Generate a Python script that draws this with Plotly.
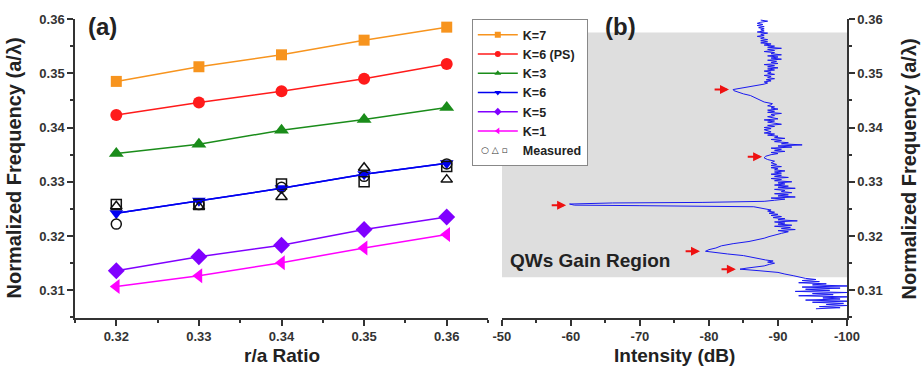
import plotly.graph_objects as go

# ---------------- data: panel (a) ----------------
ratio = [0.32, 0.33, 0.34, 0.35, 0.36]
series_names = ["K=7", "K=6 (PS)", "K=3", "K=6", "K=5", "K=1"]
k7 = [0.3485, 0.3512, 0.3534, 0.3561, 0.3585]
k6ps = [0.3423, 0.3446, 0.3467, 0.3490, 0.3517]
k3 = [0.3352, 0.3369, 0.3395, 0.3415, 0.3437]
k6 = [0.3242, 0.3265, 0.3288, 0.3314, 0.3334]
k5 = [0.3136, 0.3162, 0.3183, 0.3212, 0.3235]
k1 = [0.3107, 0.3127, 0.3151, 0.3178, 0.3203]
meas_circle = [0.3222, 0.3258, 0.3290, 0.3310, 0.3333]
meas_triangle = [0.3255, 0.3254, 0.3272, 0.3326, 0.3304]
meas_square = [0.3258, 0.3258, 0.3296, 0.3300, 0.3328]

# ---------------- data: panel (b) spectrum ----------------
spec_freq = [
    0.3066, 0.3068, 0.3070, 0.3072, 0.3074, 0.3076, 0.3078, 0.3080, 0.3082, 0.3084,
    0.3086, 0.3088, 0.3090, 0.3092, 0.3094, 0.3096, 0.3098, 0.3100, 0.3102, 0.3104,
    0.3106, 0.3108, 0.3110, 0.3112, 0.3114, 0.3116, 0.3118, 0.3120, 0.3122, 0.3124,
    0.3127, 0.3130, 0.3133, 0.3136, 0.3139, 0.3141, 0.3143, 0.3145, 0.3148, 0.3150,
    0.3152, 0.3154, 0.3156, 0.3158, 0.3161, 0.3164, 0.3167, 0.3170, 0.3172, 0.3175,
    0.3178, 0.3182, 0.3186, 0.3190, 0.3193, 0.3196, 0.3199, 0.3202, 0.3205, 0.3208,
    0.3210, 0.3212, 0.3214, 0.3216, 0.3218, 0.3220, 0.3222, 0.3224, 0.3226, 0.3228,
    0.3230, 0.3232, 0.3234, 0.3236, 0.3238, 0.3240, 0.3242, 0.3244, 0.3246, 0.3248,
    0.3250, 0.3252, 0.3254, 0.3256, 0.3257, 0.3259, 0.3261, 0.3262, 0.3264, 0.3266,
    0.3268, 0.3270, 0.3272, 0.3274, 0.3276, 0.3278, 0.3280, 0.3282, 0.3284, 0.3286,
    0.3288, 0.3290, 0.3292, 0.3294, 0.3296, 0.3298, 0.3300, 0.3302, 0.3304, 0.3306,
    0.3308, 0.3310, 0.3312, 0.3314, 0.3316, 0.3318, 0.3320, 0.3322, 0.3324, 0.3326,
    0.3328, 0.3330, 0.3332, 0.3335, 0.3338, 0.3341, 0.3344, 0.3347, 0.3350, 0.3352,
    0.3354, 0.3356, 0.3358, 0.3360, 0.3362, 0.3364, 0.3366, 0.3368, 0.3370, 0.3372,
    0.3374, 0.3376, 0.3378, 0.3380, 0.3382, 0.3384, 0.3386, 0.3388, 0.3390, 0.3392,
    0.3394, 0.3396, 0.3398, 0.3400, 0.3402, 0.3404, 0.3406, 0.3408, 0.3410, 0.3412,
    0.3414, 0.3416, 0.3418, 0.3420, 0.3422, 0.3424, 0.3426, 0.3428, 0.3430, 0.3432,
    0.3434, 0.3436, 0.3438, 0.3440, 0.3442, 0.3444, 0.3447, 0.3450, 0.3453, 0.3456,
    0.3459, 0.3462, 0.3465, 0.3468, 0.3470, 0.3472, 0.3474, 0.3476, 0.3478, 0.3480,
    0.3482, 0.3484, 0.3486, 0.3488, 0.3490, 0.3492, 0.3494, 0.3496, 0.3498, 0.3500,
    0.3502, 0.3504, 0.3506, 0.3508, 0.3510, 0.3512, 0.3514, 0.3516, 0.3518, 0.3520,
    0.3522, 0.3524, 0.3526, 0.3528, 0.3530, 0.3532, 0.3534, 0.3536, 0.3538, 0.3540,
    0.3542, 0.3544, 0.3546, 0.3548, 0.3550, 0.3552, 0.3554, 0.3556, 0.3558, 0.3560,
    0.3562, 0.3564, 0.3566, 0.3568, 0.3570, 0.3572, 0.3574, 0.3576, 0.3578, 0.3580,
    0.3582, 0.3584, 0.3586, 0.3588, 0.3590, 0.3592, 0.3594, 0.3596, 0.3598,
]
spec_db = [
    -95.5, -99.0, -96.0, -100.0, -97.0, -99.5, -95.0, -100.0, -94.0, -99.0,
    -96.5, -100.0, -93.0, -98.0, -95.0, -100.0, -92.5, -97.5, -94.0, -99.0,
    -93.5, -100.0, -95.0, -97.0, -93.0, -96.0, -93.5, -95.5, -94.0, -93.0,
    -92.2, -91.0, -90.0, -87.4, -84.5, -85.5, -87.0, -88.0, -88.8, -89.5,
    -88.5, -89.3, -88.2, -87.5, -86.5, -85.0, -82.7, -80.5, -79.5, -80.0,
    -81.0, -81.8, -83.5, -85.8, -87.0, -88.0, -88.7, -89.5, -90.5, -91.5,
    -90.0, -92.5, -90.5, -91.8, -89.5, -92.0, -90.0, -91.0, -89.5, -92.8,
    -90.0, -91.0, -89.3, -90.5, -89.0, -90.0, -88.7, -89.5, -88.5, -89.0,
    -88.0, -87.5, -86.5, -70.0, -60.5, -59.8, -66.0, -79.0, -88.0, -89.5,
    -91.0, -89.0, -92.5, -90.0, -91.5, -89.5, -92.0, -90.5, -91.0, -89.5,
    -92.5, -90.0, -91.5, -89.5, -91.0, -90.0, -92.0, -89.5, -90.5, -89.0,
    -91.5, -89.5, -90.5, -89.0, -90.5, -89.5, -91.0, -89.5, -90.0, -89.0,
    -90.5, -89.0, -89.8, -89.0, -89.5, -88.5, -88.0, -88.2, -89.0, -90.0,
    -89.0, -91.0, -89.5, -90.5, -89.0, -92.0, -90.0, -93.5, -90.5, -91.5,
    -89.5, -90.5, -89.0, -91.0, -89.5, -90.0, -88.5, -89.5, -88.0, -89.0,
    -88.5, -88.0, -89.0, -88.0, -89.5, -88.5, -90.5, -89.0, -88.5, -89.5,
    -88.0, -90.0, -89.0, -88.5, -89.5, -89.0, -90.5, -88.5, -89.5, -88.5,
    -90.0, -89.0, -89.5, -88.5, -89.0, -89.2, -88.0, -87.5, -87.0, -86.5,
    -86.0, -85.0, -84.3, -83.6, -83.5, -84.5, -85.5, -86.5, -87.5, -88.0,
    -88.5, -88.0, -89.0, -88.3, -89.5, -88.5, -89.0, -88.0, -89.5, -88.5,
    -89.0, -88.0, -89.5, -88.5, -90.0, -88.5, -89.5, -88.0, -90.0, -89.0,
    -89.8, -88.5, -90.5, -89.0, -90.0, -88.5, -90.5, -89.0, -89.5, -88.0,
    -89.5, -88.5, -90.5, -88.5, -89.5, -88.0, -89.0, -87.5, -88.5, -87.5,
    -88.5, -87.5, -88.0, -87.0, -88.0, -87.5, -88.5, -87.0, -88.0, -87.5,
    -88.0, -87.2, -88.0, -87.0, -87.8, -87.0, -87.5, -88.5, -87.5,
]

# red arrows marking resonances (frequency, tail dB, tip dB)
arrow_freq = [0.3470, 0.3346, 0.3257, 0.3172, 0.3139]
arrow_tail_db = [-80.6, -85.4, -57.0, -76.4, -81.6]
arrow_tip_db = [-82.9, -87.7, -59.3, -78.7, -83.9]

# gain region band
gain_freq_low, gain_freq_high = 0.3124, 0.3575

x_ticks_a = [0.32, 0.33, 0.34, 0.35, 0.36]
x_ticks_b = [-50, -60, -70, -80, -90, -100]
y_ticks = [0.31, 0.32, 0.33, 0.34, 0.35, 0.36]

# ---------------- styles ----------------
colors = ["#F7941E", "#FF1A1A", "#1A8C1A", "#0000F0", "#8000FF", "#FF00FF"]
symbols = ["square", "circle", "triangle-up", "triangle-down", "diamond", "triangle-left"]
sizes = [11, 12, 13, 12, 13, 13]
values = [k7, k6ps, k3, k6, k5, k1]
FONT = "Liberation Sans, Arial, sans-serif"
AX = "#333333"
TXT = "#222222"

fig = go.Figure()

for name, vals, c, s, sz in zip(series_names, values, colors, symbols, sizes):
    fig.add_trace(go.Scatter(
        x=ratio, y=vals, mode="lines+markers", name=name, showlegend=False,
        line=dict(color=c, width=1.5),
        marker=dict(color=c, symbol=s, size=sz),
        xaxis="x", yaxis="y",
    ))

for vals, s in zip([meas_circle, meas_triangle, meas_square],
                   ["circle-open", "triangle-up-open", "square-open"]):
    fig.add_trace(go.Scatter(
        x=ratio, y=vals, mode="markers", showlegend=False,
        marker=dict(color="#111111", symbol=s, size=10, line=dict(width=1.5)),
        xaxis="x", yaxis="y",
    ))

fig.add_trace(go.Scatter(
    x=ratio, y=k6, mode="lines", showlegend=False,
    line=dict(color=colors[3], width=1.5), xaxis="x", yaxis="y",
))

for name, c, s in zip(series_names, colors, symbols):
    fig.add_trace(go.Scatter(
        x=[None], y=[None], mode="lines+markers", name=name,
        line=dict(color=c, width=1.5), marker=dict(color=c, symbol=s, size=6),
        xaxis="x", yaxis="y",
    ))
fig.add_trace(go.Scatter(
    x=[None], y=[None], mode="markers", name="Measured",
    marker=dict(color="rgba(0,0,0,0)", size=1), xaxis="x", yaxis="y",
))

fig.add_trace(go.Scatter(
    x=spec_db, y=spec_freq, mode="lines", showlegend=False,
    line=dict(color="#1A1AF0", width=1), xaxis="x2", yaxis="y2",
))

fig.add_shape(type="rect", xref="x2", yref="y2", x0=-50, x1=-100,
              y0=gain_freq_low, y1=gain_freq_high,
              fillcolor="#DEDEDE", line=dict(width=0), layer="below")

annotations = []
for f, t0, t1 in zip(arrow_freq, arrow_tail_db, arrow_tip_db):
    annotations.append(dict(
        x=t1, y=f, xref="x2", yref="y2", ax=t0, ay=f, axref="x2", ayref="y2",
        text="", showarrow=True, arrowhead=2, arrowsize=0.9, arrowwidth=2,
        arrowcolor="#EE1111",
    ))


def label(text, x, y, size, angle=0, xref="paper", yref="paper", family=FONT, weight="bold", color=TXT):
    return dict(text=text, x=x, y=y, xref=xref, yref=yref, xanchor="center",
                yanchor="middle", textangle=angle, showarrow=False,
                font=dict(family=family, size=size, color=color, weight=weight))


annotations += [
    label("QWs Gain Region", -62.8, 0.31545, 19, xref="x2", yref="y2"),
    label("(a)", 0.035, 0.974, 24),
    label("(b)", 0.706, 0.974, 24),
    label("Normalized Frequency (a/λ)", -0.0803, 0.5, 20, angle=-90),
    label("Normalized Frequency (a/λ)", 1.0803, 0.5, 20, angle=-90),
    label("r/a Ratio", 0.268, -0.124, 19),
    label("Intensity (dB)", 0.777, -0.124, 19),
    label("○ △ ▫", 0.544, 0.562, 9, family="DejaVu Sans", weight="normal", color="#333333"),
]

tickfont = dict(family=FONT, size=13, color=AX, weight="bold")
common_axis = dict(showline=True, linecolor=AX, linewidth=1.5, ticks="outside",
                   tickcolor=AX, tickwidth=1.5, ticklen=6, showgrid=False,
                   zeroline=False, tickfont=tickfont)

fig.update_layout(
    width=924, height=369,
    margin=dict(l=75, r=77, t=14, b=51),
    paper_bgcolor="white", plot_bgcolor="white",
    xaxis=dict(domain=[0, 0.535], range=[0.315, 0.365], tickvals=x_ticks_a,
               ticktext=[f"{v:.2f}" for v in x_ticks_a], anchor="y",
               minor=dict(ticks="outside", ticklen=3, tickcolor=AX, dtick=0.005, tick0=0.315),
               **common_axis),
    yaxis=dict(range=[0.3049, 0.36], tickvals=y_ticks,
               ticktext=[f"{v:.2f}" for v in y_ticks], anchor="x", side="left",
               minor=dict(ticks="outside", ticklen=3, tickcolor=AX, dtick=0.005, tick0=0.305),
               **common_axis),
    xaxis2=dict(domain=[0.553, 1], range=[-50, -100], tickvals=x_ticks_b,
                ticktext=[str(v) for v in x_ticks_b], anchor="y2",
                minor=dict(ticks="outside", ticklen=3, tickcolor=AX, dtick=5, tick0=-55),
                **common_axis),
    yaxis2=dict(range=[0.3049, 0.36], tickvals=y_ticks,
                ticktext=[f"{v:.2f}" for v in y_ticks], anchor="x2", side="right",
                minor=dict(ticks="outside", ticklen=3, tickcolor=AX, dtick=0.005, tick0=0.305),
                **common_axis),
    legend=dict(x=0.514, y=1.0, xanchor="left", yanchor="top",
                bgcolor="white", bordercolor="#888888", borderwidth=1,
                font=dict(family=FONT, size=12.5, color=TXT, weight="bold"),
                itemwidth=40, tracegroupgap=0),
    annotations=annotations,
)

fig.write_html("out.html")
